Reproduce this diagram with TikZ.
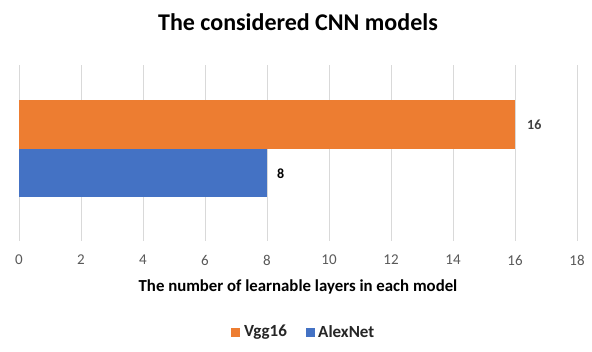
\documentclass[tikz,border=0pt]{standalone}
\usepackage{fontspec}
\setmainfont{Carlito}
\definecolor{vgg}{HTML}{ED7D31}
\definecolor{alex}{HTML}{4472C4}
\definecolor{gridc}{HTML}{D9D9D9}
\definecolor{ticktxt}{HTML}{595959}
\definecolor{lbltxt}{HTML}{404040}
\begin{document}
\begin{tikzpicture}[x=1pt,y=-1pt,
  gridline/.style={draw=gridc,line width=1pt},
  ticklbl/.style={text=ticktxt,font=\fontsize{15}{15}\selectfont,inner sep=0pt},
  barlbl/.style={text=lbltxt,font=\bfseries\fontsize{14}{14}\selectfont,inner sep=0pt,anchor=west},
  legtxt/.style={text=black!85,font=\bfseries\fontsize{17}{17}\selectfont,inner sep=0pt,anchor=west},
  legbox/.style={minimum size=9pt,inner sep=0pt}]
\useasboundingbox[fill=white] (0,0) rectangle (592,351);
\node[font=\bfseries\fontsize{24}{24}\selectfont,inner sep=0pt] (title) at (298,22) {The considered CNN models};
\foreach \v in {0,2,...,18}{
  \draw[gridline] ({19+31*\v},65) -- ({19+31*\v},241);
  \node[ticklbl] (t\v) at ({19+31*\v},260) {\v};
}
\fill[vgg] (19,100) rectangle (515,148.5);
\fill[alex] (19,148.5) rectangle (267,197);
\node[barlbl] (l16) at (527,125) {16};
\node[barlbl,text=black] (l8) at (277,173.5) {8};
\node[font=\bfseries\fontsize{16.8}{16.8}\selectfont,text=black,inner sep=0pt] (axt) at (298,287) {The number of learnable layers in each model};
\node[legbox,fill=vgg] (lb1) at (235.5,332.5) {};
\node[legtxt] (lt1) at (244,332) {Vgg16};
\node[legbox,fill=alex] (lb2) at (310.5,332.5) {};
\node[legtxt] (lt2) at (318,332) {AlexNet};
\end{tikzpicture}
\end{document}
